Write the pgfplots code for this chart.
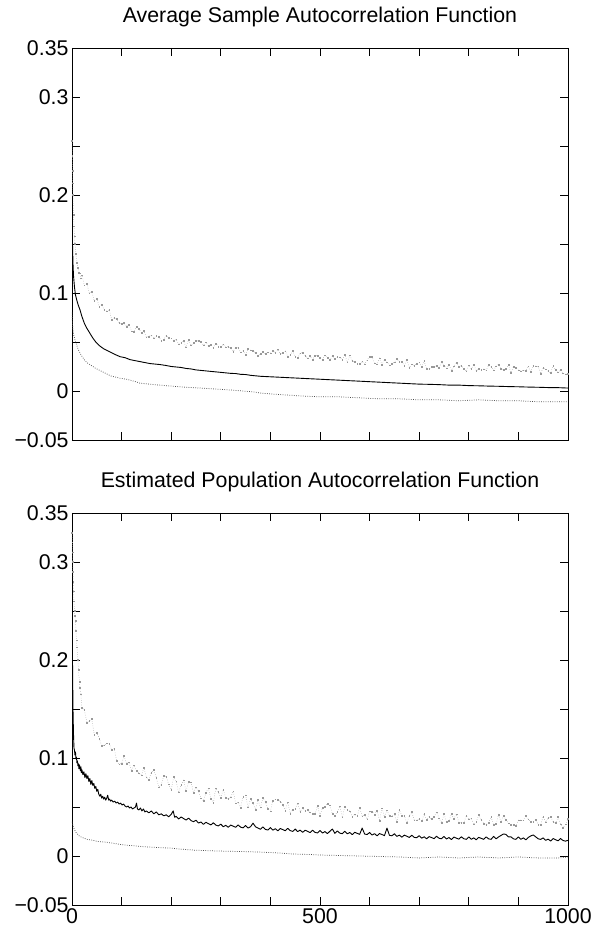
\documentclass[border=0pt]{standalone}
\usepackage{fontspec}
\setmainfont{Liberation Sans}
\usepackage{pgfplots}
\pgfplotsset{compat=1.18}
\pgfplotsset{
  acf/.style={
    width=496bp, height=392bp, scale only axis,
    xmin=0, xmax=1000, ymin=-0.05, ymax=0.35,
    font=\fontsize{21.4}{25}\selectfont,
    /pgf/number format/assume math mode=true,
    axis line style={line width=0.8bp},
    every tick/.style={black, line width=0.8bp},
    major tick length=8bp,
    tick align=inside, xtick pos=both, ytick pos=both,
    xtick={0,100,200,300,400,500,600,700,800,900,1000},
    ytick={-0.05,0,0.05,0.1,0.15,0.2,0.25,0.3,0.35},
    yticklabels={−0.05,0,{},0.1,{},0.2,{},0.3,0.35},
    title style={at={(0.5,1)}, anchor=base, yshift=20bp},
  },
  meanline/.style={black, line width=0.9bp, line join=round},
  bandline/.style={black!70, line width=0.75bp, dash pattern=on 0.75bp off 1.5bp},
  banddots/.style={black!40, line width=0.5bp, dash pattern=on 0.5bp off 1.8bp,
     mark=square*, mark size=0.35bp, mark options={solid, draw=none, fill=black!60}},
}
\begin{document}
\begin{tikzpicture}
% ---------------- top panel ----------------
\begin{axis}[acf, at={(0bp,465bp)},
  xticklabels={},
  title={Average Sample Autocorrelation Function}]
\addplot[banddots] coordinates {
(0,0.255) (0.5,0.240) (1,0.225) (1.5,0.212) (2,0.200) (3,0.180) (4,0.168) (5,0.158) (6,0.150) (8,0.140) (10,0.131) (12,0.126) (14,0.121) (16,0.120) (18,0.115)
(20,0.1182) (25,0.1078) (30,0.1092) (35,0.0998) (40,0.1012) (45,0.0918) (50,0.0942) (55,0.0858) (60,0.0882) (65,0.0826) (70,0.0814) (75,0.083) (80,0.073) (85,0.0746) (90,0.0734) (95,0.0698) (100,0.0687) (105,0.0694) (110,0.0657) (115,0.0673) (120,0.061) (125,0.0608) (130,0.0652) (135,0.0632) (140,0.0596) (145,0.0612) (150,0.0548) (155,0.0557) (160,0.0569) (165,0.0538) (170,0.0563) (175,0.0553) (180,0.0513) (185,0.0526) (190,0.0565) (195,0.0542) (200,0.0537) (205,0.0514) (210,0.0527) (215,0.0478) (220,0.0491) (225,0.0512) (230,0.0447) (235,0.0523) (240,0.0467) (245,0.049) (250,0.0513) (255,0.051) (260,0.0506) (265,0.0466) (270,0.0498) (275,0.0459) (280,0.0474) (285,0.0444) (290,0.0485) (295,0.0455) (300,0.0453) (305,0.0477) (310,0.0447) (315,0.0453) (320,0.0441) (325,0.0403) (330,0.0444) (335,0.0441) (340,0.0394) (345,0.0409) (350,0.037) (355,0.0429) (360,0.0417) (365,0.0414) (370,0.0387) (375,0.0358) (380,0.0383) (385,0.0398) (390,0.0379) (395,0.0394) (400,0.0384) (405,0.0408) (410,0.0389) (415,0.0425) (420,0.0381) (425,0.0389) (430,0.0407) (435,0.0351) (440,0.0367) (445,0.0408) (450,0.035) (455,0.0336) (460,0.0386) (465,0.0392) (470,0.0362) (475,0.0334) (480,0.0358) (485,0.032) (490,0.0363) (495,0.0361) (500,0.0342) (505,0.0322) (510,0.0364) (515,0.0336) (520,0.0317) (525,0.0359) (530,0.0331) (535,0.0346) (540,0.0344) (545,0.0316) (550,0.0368) (555,0.0294) (560,0.0364) (565,0.0309) (570,0.0298) (575,0.0279) (580,0.0277) (585,0.0302) (590,0.0273) (595,0.0315) (600,0.035) (605,0.0348) (610,0.0284) (615,0.0272) (620,0.0334) (625,0.0268) (630,0.032) (635,0.0292) (640,0.0262) (645,0.0279) (650,0.0294) (655,0.0328) (660,0.0299) (665,0.0297) (670,0.026) (675,0.032) (680,0.0238) (685,0.0272) (690,0.0261) (695,0.0276) (700,0.0292) (705,0.0246) (710,0.0307) (715,0.0225) (720,0.0224) (725,0.0249) (730,0.0248) (735,0.0255) (740,0.0236) (745,0.0296) (750,0.0259) (755,0.0231) (760,0.0265) (765,0.021) (770,0.0253) (775,0.0287) (780,0.025) (785,0.0257) (790,0.023) (795,0.0201) (800,0.0262) (805,0.0226) (810,0.0271) (815,0.0206) (820,0.0224) (825,0.0214) (830,0.0223) (835,0.0213) (840,0.0266) (845,0.0246) (850,0.0211) (855,0.0254) (860,0.0271) (865,0.0226) (870,0.0216) (875,0.0225) (880,0.0268) (885,0.0187) (890,0.0248) (895,0.0239) (900,0.0212) (905,0.0202) (910,0.0211) (915,0.021) (920,0.0254) (925,0.0199) (930,0.0261) (935,0.0252) (940,0.0251) (945,0.0178) (950,0.024) (955,0.0221) (960,0.0203) (965,0.0183) (970,0.0255) (975,0.0218) (980,0.0191) (985,0.0216) (990,0.018) (995,0.0171) (1000,0.0178)
};
\addplot[bandline] coordinates {
(0,0.080) (1,0.068) (2,0.062) (4,0.056) (6,0.052) (8,0.049) (10,0.046) (12,0.043) (15,0.040) (18,0.037) (22,0.034) (26,0.031) (30,0.029) (36,0.027) (42,0.025) (48,0.023) (56,0.021) (64,0.019) (72,0.017) (80,0.015) (90,0.014) (97,0.013) (110,0.012) (125,0.010) (137,0.008) (155,0.007) (177,0.006) (200,0.005) (225,0.004) (258,0.003) (290,0.002) (320,0.001) (345,0.000) (366,-0.001) (380,-0.002) (400,-0.003) (430,-0.004) (460,-0.005) (500,-0.006) (540,-0.006) (580,-0.007) (620,-0.008) (660,-0.008) (700,-0.009) (740,-0.009) (780,-0.010) (820,-0.009) (860,-0.010) (900,-0.010) (940,-0.011) (980,-0.011) (1000,-0.011)
};
\addplot[meanline] coordinates {
(1,0.150) (2,0.130) (3,0.118) (5,0.106) (7,0.098) (10,0.092) (13,0.087) (16,0.083) (20,0.076) (25,0.069) (30,0.064) (36,0.059) (42,0.054) (48,0.050) (56,0.046) (64,0.043) (72,0.041) (80,0.039) (88,0.037) (97,0.035) (107,0.034) (117,0.032) (127,0.031) (137,0.030) (147,0.029) (157,0.028) (167,0.0275) (177,0.027) (190,0.026) (200,0.025) (210,0.0245) (220,0.024) (230,0.023) (240,0.0225) (250,0.0215) (260,0.021) (270,0.0205) (280,0.020) (290,0.0195) (300,0.019) (310,0.0185) (320,0.018) (330,0.0178) (340,0.017) (350,0.0168) (360,0.016) (370,0.0155) (380,0.015) (400,0.0145) (420,0.014) (440,0.0135) (460,0.013) (480,0.0125) (500,0.012) (520,0.0115) (540,0.011) (560,0.0105) (580,0.010) (600,0.0095) (620,0.009) (640,0.0085) (660,0.008) (680,0.0075) (700,0.007) (720,0.0068) (740,0.0065) (760,0.006) (780,0.006) (800,0.0055) (820,0.0053) (840,0.005) (860,0.0048) (880,0.0045) (900,0.0043) (920,0.004) (940,0.0038) (960,0.0035) (980,0.0034) (1000,0.003)
};
\end{axis}
% ---------------- bottom panel ----------------
\begin{axis}[acf, at={(0bp,0bp)},
  xticklabels={0,{},{},{},{},500,{},{},{},{},1000},
  title={Estimated Population Autocorrelation Function}]
\addplot[banddots] coordinates {
(0,0.330) (0.5,0.320) (1,0.310) (1.5,0.300) (2,0.290) (2.5,0.280) (3,0.270) (4,0.260) (5,0.250) (6,0.245) (7,0.240) (8,0.230) (9,0.220) (10,0.213) (12,0.200) (13,0.190) (15,0.178) (16,0.172) (18,0.165)
(20,0.151) (25,0.1491) (30,0.136) (35,0.1379) (40,0.1397) (45,0.1237) (50,0.1256) (55,0.1199) (60,0.1124) (65,0.1129) (70,0.115) (75,0.1147) (80,0.1083) (85,0.1097) (90,0.0974) (95,0.0937) (100,0.0944) (105,0.102) (110,0.0941) (115,0.0956) (120,0.0867) (125,0.0926) (130,0.0871) (135,0.0844) (140,0.0824) (145,0.090) (150,0.0804) (155,0.0777) (160,0.0853) (165,0.0877) (170,0.0799) (175,0.0703) (180,0.0727) (185,0.082) (190,0.081) (195,0.0731) (200,0.0675) (205,0.0807) (210,0.0763) (215,0.065) (220,0.0726) (225,0.0772) (230,0.0664) (235,0.0757) (240,0.0752) (245,0.0644) (250,0.0703) (255,0.0664) (260,0.059) (265,0.0563) (270,0.0644) (275,0.069) (280,0.0582) (285,0.0543) (290,0.0692) (295,0.0653) (300,0.0596) (305,0.0677) (310,0.0591) (315,0.0586) (320,0.0599) (325,0.0662) (330,0.0537) (335,0.0549) (340,0.0493) (345,0.0608) (350,0.062) (355,0.0497) (360,0.0581) (365,0.0541) (370,0.0473) (375,0.0571) (380,0.0497) (385,0.0595) (390,0.0556) (395,0.0482) (400,0.0457) (405,0.0566) (410,0.0578) (415,0.0573) (420,0.0557) (425,0.0526) (430,0.0465) (435,0.0549) (440,0.0434) (445,0.0474) (450,0.0483) (455,0.0539) (460,0.0453) (465,0.0492) (470,0.0462) (475,0.0473) (480,0.0445) (485,0.0429) (490,0.0428) (495,0.0511) (500,0.0412) (505,0.0494) (510,0.0505) (515,0.0533) (520,0.0517) (525,0.043) (530,0.0414) (535,0.0453) (540,0.0509) (545,0.0395) (550,0.0504) (555,0.0474) (560,0.0457) (565,0.0401) (570,0.0426) (575,0.041) (580,0.0492) (585,0.0405) (590,0.0419) (595,0.0375) (600,0.0456) (605,0.0454) (610,0.0423) (615,0.0463) (620,0.0362) (625,0.0486) (630,0.0399) (635,0.0467) (640,0.0408) (645,0.0406) (650,0.0431) (655,0.0347) (660,0.0471) (665,0.0412) (670,0.041) (675,0.0339) (680,0.0408) (685,0.0449) (690,0.0365) (695,0.0365) (700,0.0382) (705,0.0357) (710,0.0428) (715,0.0367) (720,0.0402) (725,0.0377) (730,0.040) (735,0.0447) (740,0.0386) (745,0.0337) (750,0.0432) (755,0.0347) (760,0.0358) (765,0.0429) (770,0.038) (775,0.0427) (780,0.0342) (785,0.0341) (790,0.034) (795,0.0411) (800,0.0374) (805,0.0385) (810,0.0324) (815,0.0347) (820,0.0418) (825,0.0369) (830,0.0332) (835,0.0319) (840,0.0342) (845,0.0401) (850,0.0316) (855,0.0327) (860,0.0422) (865,0.0349) (870,0.0408) (875,0.0371) (880,0.0334) (885,0.0321) (890,0.032) (895,0.0307) (900,0.0366) (905,0.0365) (910,0.0364) (915,0.0411) (920,0.0374) (925,0.0349) (930,0.0348) (935,0.0371) (940,0.0322) (945,0.0321) (950,0.0404) (955,0.0343) (960,0.039) (965,0.0401) (970,0.0352) (975,0.0339) (980,0.0398) (985,0.0325) (990,0.0288) (995,0.0323) (1000,0.0382)
};
\addplot[bandline] coordinates {
(0,0.035) (2,0.031) (4,0.028) (6,0.026) (8,0.024) (10,0.023) (13,0.021) (16,0.020) (20,0.019) (25,0.018) (30,0.017) (36,0.0165) (43,0.016) (50,0.015) (60,0.0145) (70,0.014) (83,0.013) (95,0.012) (110,0.011) (125,0.0105) (144,0.0095) (160,0.009) (180,0.0085) (200,0.008) (220,0.007) (245,0.006) (270,0.0055) (300,0.005) (345,0.0045) (380,0.004) (420,0.003) (446,0.002) (480,0.0015) (500,0.001) (540,0.0005) (580,0.000) (620,-0.0005) (660,-0.001) (700,-0.002) (740,-0.001) (780,-0.002) (820,-0.001) (860,-0.002) (900,-0.001) (940,-0.002) (980,-0.002) (1000,-0.001)
};
\addplot[meanline] coordinates {
(1,0.200) (2,0.150) (3,0.125) (4,0.110) (5,0.108) (6,0.103) (7,0.106) (8,0.099) (9,0.101) (10,0.095) (11,0.097) (12,0.092) (13,0.094) (14,0.089) (15,0.093) (16,0.090) (17,0.087) (18,0.091) (19,0.085) (20,0.088) (22,0.083) (24,0.086) (26,0.080) (28,0.084) (30,0.079) (32,0.082) (34,0.076) (36,0.079) (38,0.073) (40,0.077) (42,0.072) (44,0.074) (46,0.069) (48,0.071) (50,0.066) (52,0.068) (54,0.063) (56,0.061) (58,0.063) (60,0.059) (62,0.061) (64,0.058) (66,0.060) (68,0.057) (70,0.059) (72,0.062) (74,0.057) (76,0.058) (78,0.056) (80,0.057) (83,0.055) (86,0.056) (89,0.054) (92,0.055) (95,0.053) (98,0.054) (101,0.052) (104,0.053) (107,0.051) (110,0.050) (113,0.051) (116,0.049) (119,0.050) (122,0.048) (125,0.049) (128,0.050) (130,0.054) (132,0.048) (135,0.047) (138,0.049) (141,0.046) (144,0.048) (147,0.045) (150,0.046) (155,0.044) (160,0.046) (165,0.043) (170,0.045) (175,0.042) (180,0.043) (185,0.041) (190,0.042) (195,0.040) (200,0.0425) (204,0.046) (207,0.0395) (210,0.0405) (215,0.0378) (220,0.0398) (225,0.0382) (230,0.0367) (235,0.0386) (240,0.0361) (245,0.035) (250,0.0365) (255,0.0336) (260,0.0347) (265,0.0323) (270,0.0344) (275,0.033) (280,0.0317) (285,0.0339) (290,0.0315) (295,0.0307) (300,0.0325) (305,0.0299) (310,0.0313) (315,0.0293) (320,0.0316) (325,0.0304) (330,0.0293) (335,0.0317) (340,0.0294) (345,0.0287) (350,0.0311) (355,0.0285) (360,0.0299) (365,0.0335) (370,0.0298) (375,0.0285) (380,0.0273) (385,0.0297) (390,0.0271) (395,0.0265) (400,0.029) (405,0.0264) (410,0.0278) (415,0.0257) (420,0.0281) (425,0.0269) (430,0.0258) (435,0.0282) (440,0.0259) (445,0.0251) (450,0.0275) (455,0.0249) (460,0.0264) (465,0.0241) (470,0.0263) (475,0.0252) (480,0.0239) (485,0.0263) (490,0.0241) (495,0.0235) (500,0.026) (505,0.0234) (510,0.0249) (515,0.0228) (520,0.0253) (525,0.0275) (530,0.0231) (535,0.0255) (540,0.0233) (545,0.0228) (550,0.0252) (555,0.0226) (560,0.024) (565,0.0218) (570,0.0242) (575,0.0231) (580,0.0221) (585,0.0285) (590,0.0224) (595,0.0219) (600,0.024) (605,0.0214) (610,0.0228) (615,0.0206) (620,0.0229) (625,0.0219) (630,0.0208) (635,0.0285) (640,0.0211) (645,0.0206) (650,0.0227) (655,0.020) (660,0.0213) (665,0.0192) (670,0.0213) (675,0.0202) (680,0.0189) (685,0.0212) (690,0.019) (695,0.0186) (700,0.0208) (705,0.0182) (710,0.0196) (715,0.0175) (720,0.0198) (725,0.0188) (730,0.0177) (735,0.0201) (740,0.0181) (745,0.0176) (750,0.020) (755,0.0174) (760,0.0188) (765,0.0168) (770,0.0193) (775,0.0182) (780,0.0172) (785,0.0196) (790,0.0176) (795,0.017) (800,0.0195) (805,0.017) (810,0.0185) (815,0.0165) (820,0.019) (825,0.018) (830,0.017) (835,0.0195) (840,0.0175) (845,0.017) (850,0.020) (855,0.0175) (860,0.0195) (865,0.021) (870,0.0225) (875,0.022) (880,0.0195) (885,0.0195) (890,0.0175) (895,0.017) (900,0.0195) (905,0.017) (910,0.0185) (915,0.0165) (920,0.019) (925,0.0205) (930,0.0215) (935,0.0195) (940,0.0175) (945,0.017) (950,0.0185) (955,0.016) (960,0.0172) (965,0.0153) (970,0.0178) (975,0.0166) (980,0.0155) (985,0.0178) (990,0.0158) (995,0.0152) (1000,0.016)
};
\end{axis}
\pgfresetboundingbox
\path[use as bounding box] (-72bp,-26bp) rectangle (520bp,905bp);
\end{tikzpicture}
\end{document}
